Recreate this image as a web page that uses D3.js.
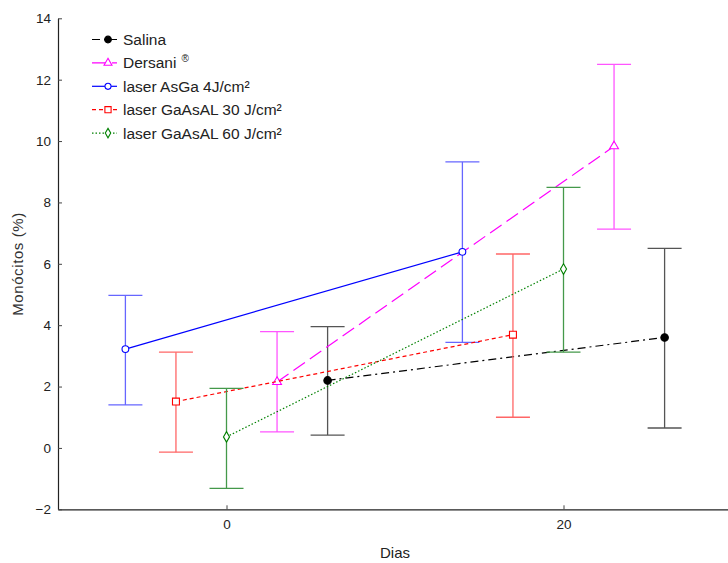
<!DOCTYPE html>
<meta charset="utf-8">
<head>
<script src="https://d3js.org/d3.v7.min.js"></script>
<style>
  body { margin: 0; background: #fff; }
  text { font-family: "Liberation Sans", Arial, sans-serif; }
</style>
</head>
<body>
<div id="chart"></div>
<script>

// days measured and the horizontal shift of each group around them
var days = [0, 20];
var groups = ["Salina", "Dersani", "laser AsGa 4J/cm²", "laser GaAsAL 30 J/cm²", "laser GaAsAL 60 J/cm²"];
var offsets = [6, 3, -6, -3, 0];

// means and error bar limits, one row per group, one entry per day
var means = [[2.2, 3.6], [2.15, 9.83], [3.22, 6.39], [1.51, 3.69], [0.36, 5.83]];
var upper = [[3.95, 6.5], [3.79, 12.5], [4.97, 9.32], [3.12, 6.32], [1.94, 8.49]];
var lower = [[0.42, 0.65], [0.52, 7.13], [1.4, 3.44], [-0.14, 1.0], [-1.32, 3.12]];

var yTicks = [-2, 0, 2, 4, 6, 8, 10, 12, 14];
var xTicks = [0, 20];

var lineColors = ["#000000", "#ff00ff", "#0000ff", "#ff0000", "#008000"];
var barColors = ["#555555", "#ff55ff", "#6666ff", "#ff6666", "#44994a"];
var dashes = ["8,4,2,4", "14,6", null, "4,3", "1.5,2"];
var symbols = [d3.symbolCircle, d3.symbolTriangle, d3.symbolCircle, d3.symbolSquare, d3.symbolDiamond];
var symSizes = [44, 34, 36, 48, 32];
var filled = [true, false, false, false, false];

var width = 728, height = 563;

var svg = d3.select("#chart")
  .append("svg")
    .attr("width", width)
    .attr("height", height);

var x = d3.scaleLinear().domain([-10, 30]).range([58, 732]);
var y = d3.scaleLinear().domain([-2, 14]).range([509.3, 18.3]);

// axes
var xAxis = svg.append("g")
  .attr("transform", "translate(0," + y(-2) + ")")
  .call(d3.axisBottom(x).tickValues(xTicks).tickSizeInner(-4).tickSizeOuter(0).tickPadding(10));
var yAxis = svg.append("g")
  .attr("transform", "translate(" + x(-10) + ",0)")
  .call(d3.axisLeft(y).tickValues(yTicks).tickSizeInner(-4).tickSizeOuter(0).tickPadding(7));

[xAxis, yAxis].forEach(function(a){
  a.select(".domain").attr("stroke", "#222").attr("stroke-width", 1.2);
  a.selectAll(".tick line").attr("stroke", "#444");
  a.selectAll(".tick text").attr("font-size", "13.5px").attr("fill", "#222")
    .style("font-family", "'Liberation Sans', Arial, sans-serif");
});

svg.append("text")
  .attr("x", 395).attr("y", 558)
  .attr("text-anchor", "middle")
  .attr("font-size", "15px").attr("fill", "#222")
  .text("Dias");

svg.append("text")
  .attr("transform", "translate(23," + 264 + ") rotate(-90)")
  .attr("text-anchor", "middle")
  .attr("font-size", "15px").attr("fill", "#333")
  .attr("letter-spacing", "0.6px")
  .text("Monócitos (%)");

// series
groups.forEach(function(name, i){
  var pts = days.map(function(d, j){
    return {x: d + offsets[i], m: means[i][j], hi: upper[i][j], lo: lower[i][j]};
  });

  var g = svg.append("g");

  // error bars
  pts.forEach(function(p){
    var cx = x(p.x);
    g.append("line").attr("x1", cx).attr("x2", cx).attr("y1", y(p.hi)).attr("y2", y(p.lo))
      .attr("stroke", barColors[i]).attr("stroke-width", 1.3);
    [p.hi, p.lo].forEach(function(v){
      g.append("line").attr("x1", cx - 17).attr("x2", cx + 17).attr("y1", y(v)).attr("y2", y(v))
        .attr("stroke", barColors[i]).attr("stroke-width", 1.3);
    });
  });

  // connecting line
  g.append("path")
    .datum(pts)
    .attr("d", d3.line().x(function(p){ return x(p.x); }).y(function(p){ return y(p.m); }))
    .attr("fill", "none")
    .attr("stroke", lineColors[i])
    .attr("stroke-width", 1.2)
    .attr("stroke-dasharray", dashes[i]);

  // markers
  g.selectAll("path.mk")
    .data(pts)
    .enter()
    .append("path")
      .attr("class", "mk")
      .attr("d", d3.symbol().type(symbols[i]).size(symSizes[i]))
      .attr("transform", function(p){ return "translate(" + x(p.x) + "," + y(p.m) + ")"; })
      .attr("fill", filled[i] ? lineColors[i] : "#fff")
      .attr("stroke", lineColors[i])
      .attr("stroke-width", 1.1);
});

// legend
var legend = svg.append("g");
groups.forEach(function(name, i){
  var ly = 39.5 + i * 23.4;
  legend.append("line")
    .attr("x1", 92).attr("x2", 117).attr("y1", ly).attr("y2", ly)
    .attr("stroke", lineColors[i]).attr("stroke-width", 1.2)
    .attr("stroke-dasharray", dashes[i]);
  legend.append("path")
    .attr("d", d3.symbol().type(symbols[i]).size(symSizes[i] * 0.8))
    .attr("transform", "translate(108," + ly + ")")
    .attr("fill", filled[i] ? lineColors[i] : "#fff")
    .attr("stroke", lineColors[i]).attr("stroke-width", 1.1);
  var t = legend.append("text")
    .attr("x", 123).attr("y", ly + 5.5)
    .attr("font-size", "15.5px").attr("fill", "#222")
    .text(name);
  if (name == "Dersani") {
    t.append("tspan").attr("dx", 5).attr("dy", -6).attr("font-size", "10px").text("®");
  }
});

</script>
</body>
